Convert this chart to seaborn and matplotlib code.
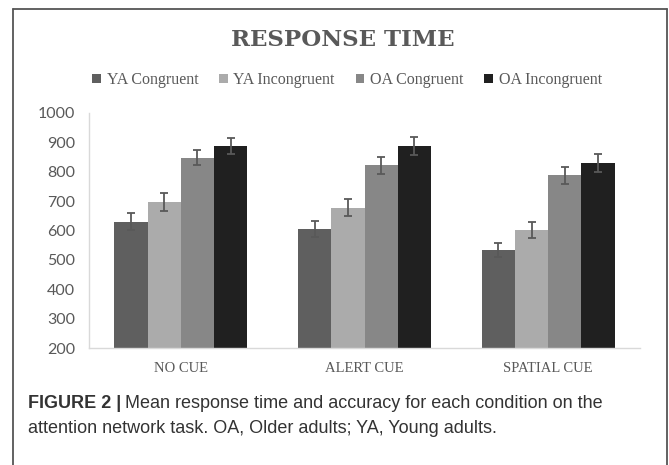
import numpy as np
import pandas as pd
import matplotlib
matplotlib.use("Agg")
import matplotlib.pyplot as plt
from matplotlib.lines import Line2D
import seaborn as sns

# values
conditions = ["NO CUE", "ALERT CUE", "SPATIAL CUE"]
groups = ["YA Congruent", "YA Incongruent", "OA Congruent", "OA Incongruent"]
ya_congruent = [630, 605, 535]
ya_incongruent = [697, 678, 602]
oa_congruent = [848, 822, 788]
oa_incongruent = [888, 888, 830]
ya_congruent_err = [29, 27, 24]
ya_incongruent_err = [30, 29, 26]
oa_congruent_err = [26, 28, 29]
oa_incongruent_err = [27, 30, 31]
y_ticks = [200, 300, 400, 500, 600, 700, 800, 900, 1000]

colors = ["#5f5f5f", "#ababab", "#878787", "#202020"]
text_gray = "#595959"

means = [ya_congruent, ya_incongruent, oa_congruent, oa_incongruent]
errs = [ya_congruent_err, ya_incongruent_err, oa_congruent_err, oa_incongruent_err]

rows = []
for g, vals in zip(groups, means):
    for c, v in zip(conditions, vals):
        rows.append({"condition": c, "group": g, "rt": v})
df = pd.DataFrame(rows)

sns.set_style("white")

fig = plt.figure(figsize=(6.69, 4.65), dpi=100)
ax = fig.add_axes([89 / 669, 1 - 348 / 465, (640 - 89) / 669, (348 - 113) / 465])

sns.barplot(data=df, x="condition", y="rt", hue="group", order=conditions,
            hue_order=groups, palette=colors, width=0.725, gap=0,
            errorbar=None, edgecolor="none", linewidth=0, saturation=1, ax=ax)

# error bars on each bar
for cont, e in zip(ax.containers, errs):
    xs = [p.get_x() + p.get_width() / 2 for p in cont]
    ys = [p.get_height() for p in cont]
    ax.errorbar(xs, ys, yerr=e, fmt="none", ecolor="#595959",
                elinewidth=1.3, capsize=3, capthick=1.3)

ax.set_ylim(200, 1000)
ax.set_xlim(-0.5, 2.5)
ax.set_yticks(y_ticks)
ax.set_xlabel("")
ax.set_ylabel("")
ax.tick_params(axis="both", length=0)
ax.tick_params(axis="y", pad=10, labelfontfamily="Lato", labelsize=11.5,
               labelcolor=text_gray)
ax.tick_params(axis="x", pad=10, labelfontfamily="Liberation Serif",
               labelsize=10.5, labelcolor=text_gray)

for side in ["top", "right"]:
    ax.spines[side].set_visible(False)
for side in ["left", "bottom"]:
    ax.spines[side].set_color("#d9d9d9")
    ax.spines[side].set_linewidth(1.0)

sns.move_legend(ax, "center", bbox_to_anchor=(347 / 669, 1 - 80 / 465),
                bbox_transform=fig.transFigure, ncol=4, frameon=False,
                title=None, handlelength=0.55, handleheight=0.55,
                handletextpad=0.35, columnspacing=1.3,
                prop={"family": "Liberation Serif", "size": 11.5})
for t in ax.get_legend().get_texts():
    t.set_color(text_gray)

fig.text(343 / 669, 1 - 40 / 465, "RESPONSE TIME", ha="center", va="center",
         fontsize=16.5, fontweight="bold", family="DejaVu Serif",
         color=text_gray)

# outer frame
frame_kw = dict(color="#555555", linewidth=1.3, transform=fig.transFigure)
fig.add_artist(Line2D([13 / 669, 13 / 669], [0, 1 - 9 / 465], **frame_kw))
fig.add_artist(Line2D([667 / 669, 667 / 669], [0, 1 - 9 / 465], **frame_kw))
fig.add_artist(Line2D([13 / 669, 667 / 669], [1 - 9 / 465, 1 - 9 / 465], **frame_kw))

# caption
cap_kw = dict(fontsize=13, family="Liberation Sans", color="#333333", va="center")
bold = fig.text(28 / 669, 1 - 403 / 465, "FIGURE 2 |", fontweight="bold", **cap_kw)
fig.canvas.draw()
bb = bold.get_window_extent().transformed(fig.transFigure.inverted())
fig.text(bb.x1 + 4 / 669, 1 - 403 / 465,
         "Mean response time and accuracy for each condition on the", **cap_kw)
fig.text(28 / 669, 1 - 428 / 465,
         "attention network task. OA, Older adults; YA, Young adults.", **cap_kw)

fig.savefig("out.png", dpi=100)
